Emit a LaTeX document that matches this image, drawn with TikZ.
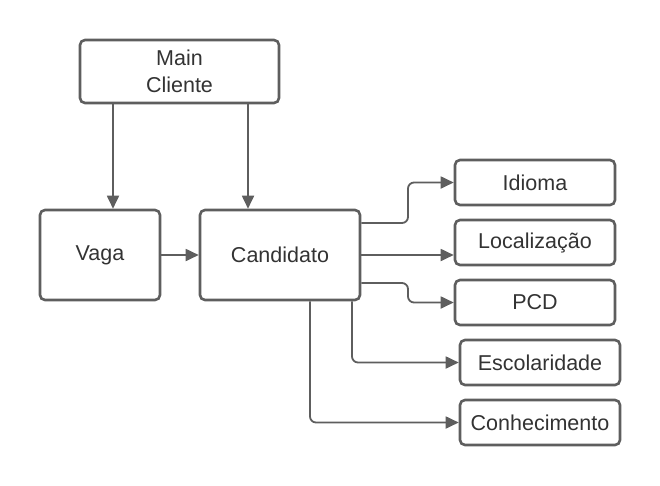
\documentclass[tikz,border=0pt]{standalone}
\usepackage{fontspec}
\setmainfont{Liberation Sans}
\usetikzlibrary{arrows.meta}
\definecolor{lc}{HTML}{5E5E5E}
\definecolor{tc}{HTML}{333333}
\begin{document}
\begin{tikzpicture}[x=1pt,y=-1pt,
  box/.style={draw=lc,line width=2.6pt,rounded corners=5pt,fill=white,text=tc,font=\fontsize{21.5}{27}\selectfont,align=center,inner sep=0pt},
  conn/.style={draw=lc,line width=1.8pt,rounded corners=6pt,-{Triangle[length=13pt,width=12pt]}}]
\useasboundingbox (0,0) rectangle (660,485);
\fill[white] (0,0) rectangle (660,485);
\node[box,minimum width=199pt,minimum height=63pt] (main) at (179.5,71.5) {Main\\Cliente};
\node[box,minimum width=120pt,minimum height=90pt] (vaga) at (100,255) {Vaga};
\node[box,minimum width=160pt,minimum height=90pt] (cand) at (280,255) {Candidato};
\node[box,minimum width=160pt,minimum height=45pt] (idioma) at (535,182.5) {Idioma};
\node[box,minimum width=160pt,minimum height=45pt] (loc) at (535,242.5) {Localização};
\node[box,minimum width=160pt,minimum height=45pt] (pcd) at (535,302.5) {PCD};
\node[box,minimum width=160pt,minimum height=45pt] (esc) at (540,362.5) {Escolaridade};
\node[box,minimum width=160pt,minimum height=45pt] (con) at (540,422.5) {Conhecimento};
\draw[conn] (main.south -| 113,0) -- (vaga.north -| 113,0);
\draw[conn] (main.south -| 248,0) -- (cand.north -| 248,0);
\draw[conn] (vaga.east) -- (cand.west);
\draw[conn] (cand.east |- 0,223) -- (408,223) -- (408,182.5) -- (idioma.west);
\draw[conn] (cand.east |- 0,255) -- (loc.west |- 0,255);
\draw[conn] (cand.east |- 0,283) -- (408,283) -- (408,302.5) -- (pcd.west);
\draw[conn] (cand.south -| 352,0) -- (352,362.5) -- (esc.west);
\draw[conn] (cand.south -| 310,0) -- (310,422.5) -- (con.west);
\end{tikzpicture}
\end{document}
